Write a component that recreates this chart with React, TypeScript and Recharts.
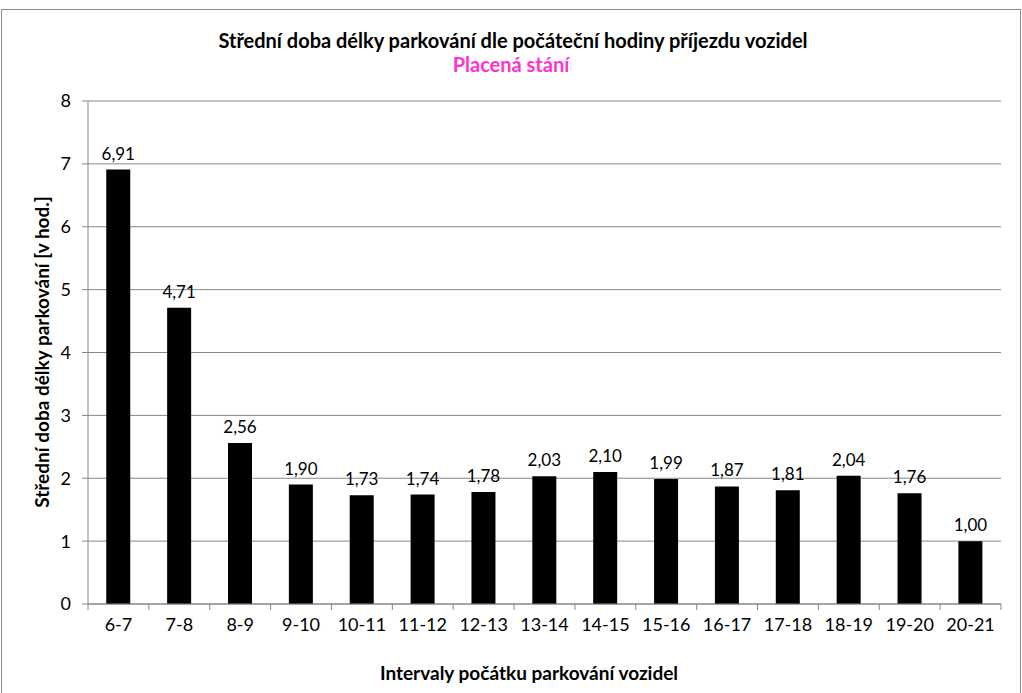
import React from 'react'
import {
  BarChart,
  Bar,
  XAxis,
  YAxis,
  CartesianGrid,
  LabelList,
} from 'recharts'

const intervals = [
  '6-7', '7-8', '8-9', '9-10', '10-11', '11-12', '12-13', '13-14',
  '14-15', '15-16', '16-17', '17-18', '18-19', '19-20', '20-21',
]
const meanHours = [
  6.91, 4.71, 2.56, 1.9, 1.73, 1.74, 1.78, 2.03, 2.1, 1.99, 1.87, 1.81, 2.04, 1.76, 1.0,
]
const yTicks = [0, 1, 2, 3, 4, 5, 6, 7, 8]

const FONT = 'Lato, "Open Sans", sans-serif'
const GRID = '#868686'

const data = intervals.map((name, i) => ({ name, value: meanHours[i] }))

const fmt = (v: number) => v.toFixed(2).replace('.', ',')

// category label plus tick marks on the category boundaries (Excel style)
function BoundaryTick(props: any) {
  const { x, y, payload, index } = props
  const half = payload?.offset ?? 30.4
  const last = index === intervals.length - 1
  return (
    <g>
      <line x1={x - half} x2={x - half} y1={y} y2={y + 6} stroke={GRID} />
      {last && <line x1={x + half} x2={x + half} y1={y} y2={y + 6} stroke={GRID} />}
      <text
        x={x}
        y={y + 27}
        textAnchor="middle"
        fill="#000"
        fontSize={18}
        fontFamily={FONT}
      >
        {payload.value}
      </text>
    </g>
  )
}

export default function App() {
  return (
    <div
      style={{
        position: 'fixed',
        left: 0,
        top: 0,
        width: 1022,
        height: 693,
        background: '#fff',
        overflow: 'hidden',
        fontFamily: FONT,
      }}
    >
      <div
        style={{
          position: 'absolute',
          left: 1,
          top: 9,
          width: 1018,
          height: 720,
          border: '1px solid #8c8c8c',
        }}
      />
      <div
        style={{
          position: 'absolute',
          left: 0,
          width: 1026,
          top: 28,
          lineHeight: '24px',
          textAlign: 'center',
          fontWeight: 700,
          fontSize: 20,
          color: '#000',
        }}
      >
        Střední doba délky parkování dle počáteční hodiny příjezdu vozidel
      </div>
      <div
        style={{
          position: 'absolute',
          left: 0,
          width: 1022,
          top: 52,
          lineHeight: '24px',
          textAlign: 'center',
          fontWeight: 700,
          fontSize: 20,
          color: '#ff33cc',
        }}
      >
        Placená stání
      </div>
      <div
        style={{
          position: 'absolute',
          left: 41,
          top: 352,
          transform: 'translate(-50%, -50%) rotate(-90deg)',
          whiteSpace: 'nowrap',
          fontWeight: 700,
          fontSize: 19,
          color: '#000',
        }}
      >
        Střední doba délky parkování [v hod.]
      </div>
      <div
        style={{
          position: 'absolute',
          left: 0,
          width: 1058,
          top: 661,
          lineHeight: '24px',
          textAlign: 'center',
          fontWeight: 700,
          fontSize: 19,
          color: '#000',
        }}
      >
        Intervaly počátku parkování vozidel
      </div>
      <div style={{ position: 'absolute', left: 0, top: 0 }}>
        <BarChart
          width={1022}
          height={693}
          data={data}
          margin={{ top: 101, right: 21, bottom: 59, left: 0 }}
          barCategoryGap="30%"
        >
          <CartesianGrid horizontal vertical={false} stroke={GRID} />
          <XAxis
            dataKey="name"
            height={30}
            axisLine={{ stroke: GRID }}
            tickLine={false}
            tickSize={0}
            tickMargin={0}
            interval={0}
            tick={<BoundaryTick />}
          />
          <YAxis
            width={88}
            domain={[0, 8]}
            ticks={yTicks}
            tickSize={6}
            tickMargin={11}
            axisLine={{ stroke: GRID }}
            tickLine={{ stroke: GRID }}
            tick={{ fill: '#000', fontSize: 18, fontFamily: FONT }}
          />
          <Bar dataKey="value" fill="#000" isAnimationActive={false}>
            <LabelList
              dataKey="value"
              position="top"
              offset={10}
              formatter={(v: any) => fmt(Number(v))}
              style={{ fill: '#000', fontSize: 17, fontFamily: FONT }}
            />
          </Bar>
        </BarChart>
      </div>
    </div>
  )
}
